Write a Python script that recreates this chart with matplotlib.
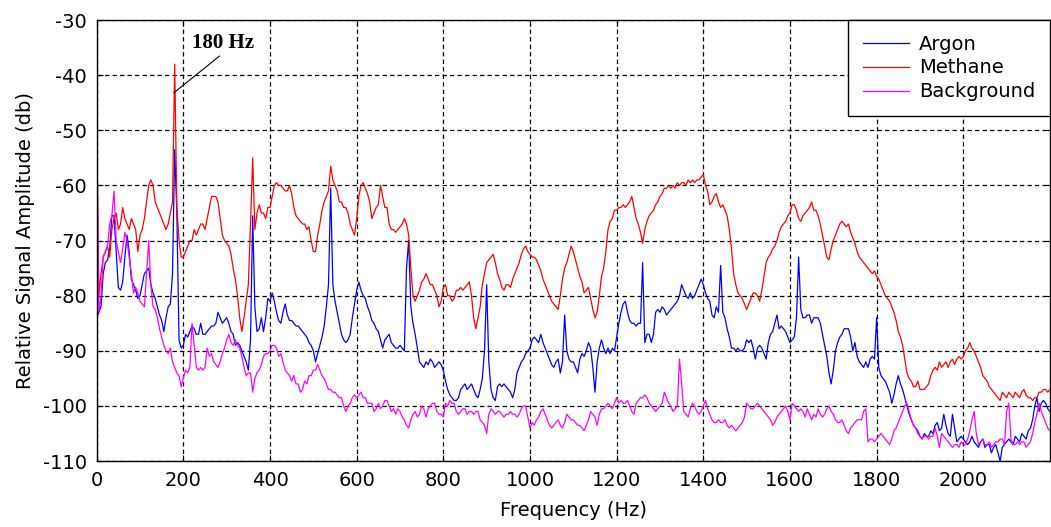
import numpy as np
from matplotlib import pyplot as plt

# spectra, one value every 5 Hz from 0 to 2200 Hz
freq = np.arange(0, 2201, 5)

methane = [
    -50, -80, -76, -73, -72, -71, -73, -68, -66, -65, -68, -67, -64, -66, -67, -68, -66, -67, -68, -72,
    -69, -68, -66, -63, -60, -59, -60, -63, -64, -65, -66, -67, -68, -67, -65, -63, -38, -64, -70, -73,
    -73, -72, -71, -70, -70, -68, -69, -68, -67, -67, -68, -66, -64, -62, -62, -62, -63, -66, -69, -70,
    -70.5, -71, -72.5, -75, -77, -80, -84, -86.5, -84, -81, -78, -67, -55, -68, -65, -63.5, -65, -65, -66, -64,
    -64, -62, -60, -59.5, -60, -60, -60.5, -61, -61, -60, -61.5, -64, -65.5, -66, -66.5, -67, -67, -68, -67.5, -70,
    -72, -72, -69, -67, -64.5, -63, -62, -61, -56.5, -59, -60, -61, -63, -63, -64, -64, -65, -67, -68, -69,
    -66, -62, -60, -59.5, -60.5, -61.5, -63, -66, -65, -64, -63.5, -60, -62, -64, -64, -67, -68, -68, -68.5, -68,
    -67.5, -67, -66, -67, -69, -75, -80, -81, -80, -79, -77.5, -77, -76, -77, -78, -78, -79, -80, -82, -81,
    -78.5, -78, -80, -80, -81, -80.5, -79, -79, -78.5, -79, -78.5, -78, -77.5, -80, -84, -86, -84, -82, -78, -76,
    -74, -73.5, -73, -72.5, -74, -76, -77, -78.5, -79, -78, -78, -78.5, -77, -76, -75, -74, -72.5, -71.5, -71, -72,
    -72.5, -73, -73, -73.5, -74.5, -75.5, -77, -78, -79, -80, -81, -81.5, -82, -82.5, -80, -77, -75, -74, -72.5, -71,
    -72, -73.5, -75, -76.5, -77.5, -79.5, -79, -78.5, -80.5, -82.5, -84, -83, -80, -76.5, -75, -72, -68, -66.5, -66, -64.5,
    -64.5, -64, -64, -63.5, -64, -63.5, -63, -62, -64, -66, -67, -68.5, -70.5, -68, -66.5, -65.5, -65, -64.5, -63.5, -63,
    -62, -61.5, -60.5, -60.5, -60, -60.5, -60, -60.5, -59.5, -60, -59.5, -59.5, -60, -59, -59.5, -59, -59.5, -59, -59, -58.5,
    -58, -60, -61, -63.5, -63, -62, -61.5, -63, -64, -63.5, -64.5, -65.5, -68, -71.5, -76, -78, -79.5, -80, -80.5, -81.5,
    -82.5, -81.5, -80.5, -79.5, -79.5, -80, -81, -79, -76.5, -74, -73, -72.5, -71.5, -71, -70, -68.5, -67.5, -67, -66.5, -65.5,
    -65, -63.5, -63.5, -64.5, -66, -66.5, -65.5, -65, -64.5, -64, -63, -64.5, -64.5, -65.5, -67, -69, -71, -73, -73.5, -71.5,
    -70, -69, -68, -67, -66.5, -67, -67.5, -67, -68.5, -69.5, -70.5, -72, -73, -73.5, -74, -74.5, -75, -75.5, -76, -75.5,
    -76.5, -77, -78, -79, -80, -80.5, -81, -82, -83, -84.5, -86.5, -87.5, -89, -91.5, -94, -95, -95.5, -96.5, -96.5, -95.5,
    -97, -97, -97, -96.5, -96, -94.5, -93.5, -93, -93.5, -92, -93, -92.5, -92, -93, -92, -91.5, -92.5, -91.5, -91, -91.5,
    -91, -90, -89.5, -88.5, -89.5, -90, -91, -92, -93, -94.5, -95, -95.5, -96.5, -97, -97.5, -98, -98.5, -99, -97.5, -98,
    -98.5, -97.5, -98, -98.5, -97.5, -98, -98.5, -97.5, -97, -98, -98.5, -98.5, -99, -98.5, -98.5, -97.5, -97.5, -97, -97, -97.5,
    -97,
]

argon = [
    -84, -83, -82, -76, -74, -73.5, -71.5, -65.5, -65.5, -72, -78.5, -79, -77.5, -73, -69, -72, -77, -78, -79, -80.5,
    -80, -78, -76, -75.5, -75, -78, -79.5, -80.5, -82, -83.5, -84.5, -86.5, -84, -82, -81.5, -76, -53.5, -65, -88, -89.5,
    -89, -87, -87.5, -86.5, -85.5, -86, -87, -87, -85, -87, -87, -86.5, -86, -85.5, -85.5, -85, -83, -84, -85, -84.5,
    -84, -85, -86.5, -87, -89, -88.5, -89, -90, -91, -92, -93.5, -88, -65.5, -82, -86.5, -86, -84, -86.5, -84, -80.5,
    -81, -79.5, -81, -83, -84.5, -85, -83, -81.5, -83.5, -84.5, -84.5, -85, -85.5, -85.5, -86, -86.5, -87, -87.5, -88.5, -89,
    -90, -92, -90.5, -89, -87.5, -85.5, -82, -78, -60.5, -78, -81, -83, -85, -87, -88, -88.5, -88, -87, -84, -81.5,
    -79, -77.5, -79, -80, -80.5, -82, -83, -84.5, -85, -86, -86.5, -88, -89.5, -88, -87.5, -87, -88.5, -89, -89.5, -89.5,
    -89, -89.5, -90, -75, -70, -82, -85, -87, -89.5, -92, -92.5, -93, -92, -92.5, -91.5, -92, -93, -92.5, -92, -92.5,
    -93.5, -95.5, -97, -98, -98.5, -99, -99, -98.5, -97, -96.5, -96, -97, -96.5, -96, -97, -98, -98.5, -97, -95, -90,
    -78, -92, -97, -98.5, -99, -96.5, -96, -96.5, -96, -96.5, -97, -97.5, -98.5, -97, -94, -93, -92, -91.5, -90.5, -90,
    -89.5, -88, -87.5, -88, -88.5, -87, -88.5, -89.5, -90.5, -91.5, -92.5, -93, -92, -91.5, -94, -92, -83.5, -90, -91.5, -92,
    -92, -93, -94, -91.5, -90.5, -91, -90, -88.5, -89.5, -93, -97.5, -92, -89.5, -88, -89.5, -90.5, -89.5, -90.5, -89.5, -90,
    -87.5, -85, -83, -81.5, -81, -83, -84.5, -85, -85, -85.5, -85, -85, -74, -88.5, -87, -87, -88.5, -87, -83, -82.5,
    -83, -82, -82.5, -83.5, -83, -82.5, -82, -81.5, -81, -80, -78, -79, -80, -80.5, -79.5, -80.5, -80, -79, -78, -77,
    -78, -79.5, -80.5, -81, -83.5, -84, -82, -83, -74.5, -83, -84, -86, -87.5, -89.5, -89.5, -90, -89.5, -90, -90, -89.5,
    -88, -88.5, -88, -89.5, -91.5, -89.5, -89, -89.5, -90.5, -91.5, -88.5, -87, -86.5, -85, -83.5, -86, -85.5, -86, -86.5, -87.5,
    -88.5, -88, -87.5, -84, -73, -82.5, -84, -84, -83.5, -83.5, -85, -84, -84, -84, -85, -87, -89, -91, -94, -96,
    -93.5, -90, -88.5, -87.5, -87, -86, -86, -86, -87.5, -90, -88.5, -91, -92, -92.5, -93, -92, -93, -91.5, -91, -91.5,
    -84, -93, -94.5, -95, -95.5, -96.5, -97.5, -99.5, -98, -96, -94.5, -96, -97, -98.5, -100, -101.5, -102.5, -103.5, -104, -104.5,
    -105.5, -106, -105, -105.5, -105.5, -104.5, -105, -103.5, -103, -104.5, -104, -101.5, -103.5, -105, -105.5, -101.5, -104, -106.5, -106, -105.5,
    -106, -106.5, -107, -106.5, -105.5, -106.5, -107, -107.5, -106.5, -106, -107.5, -107, -107, -108.5, -107.5, -107, -108.5, -110, -107.5, -107,
    -106.5, -106, -106.5, -107, -105.5, -106, -106.5, -105, -105.5, -106, -104.5, -104, -102.5, -100, -98.5, -101, -99.5, -99, -99.5, -100.5,
    -101,
]

background = [
    -49, -83, -80, -73, -72, -71, -67, -65.5, -61, -70, -72, -74, -71.5, -68.5, -70, -73, -76, -79.5, -78.5, -79.5,
    -81, -81.5, -82, -76, -70, -78, -82, -82.5, -84, -86, -87.5, -89, -90, -90.5, -89.5, -92, -93, -94, -94.5, -96.5,
    -95, -93.5, -94, -93, -85, -89, -93, -93.5, -93, -93.5, -93, -89.5, -91, -90.5, -92, -92.5, -93, -92, -90.5, -89.5,
    -88, -87, -88.5, -89, -88, -89, -89.5, -91, -93, -94.5, -94, -94, -97.5, -95, -94, -93.5, -92.5, -91, -90.5, -90.5,
    -90, -89, -89, -89.5, -91, -90.5, -92, -93.5, -94, -94.5, -95.5, -94.5, -96, -96, -97.5, -97, -95.5, -96, -94.5, -94.5,
    -93.5, -93.5, -92.5, -93.5, -94.5, -95, -96, -97, -97, -97.5, -97.5, -98, -98.5, -98.5, -100, -101, -100, -99.5, -98.5, -98,
    -98.5, -98, -97.5, -98.5, -98.5, -99.5, -99.5, -99.5, -101, -100.5, -99.5, -100.5, -100, -99, -99, -100, -101, -100.5, -101.5, -100.5,
    -101, -102, -102.5, -103.5, -104, -102.5, -101.5, -101, -102, -101.5, -100, -100.5, -102, -100.5, -100, -99.5, -99.5, -101, -101.5, -101.5,
    -102, -99.5, -100, -99, -99.5, -99.5, -101, -101.5, -101, -100.5, -100.5, -101.5, -101, -101, -101.5, -101, -101, -102.5, -103, -103.5,
    -105, -101.5, -100.5, -101, -101.5, -101, -101, -101.5, -102, -101.5, -101.5, -101, -101.5, -101.5, -102, -101.5, -100.5, -100, -100, -102,
    -104, -103, -103.5, -102.5, -102, -101, -100.5, -101.5, -102.5, -103.5, -104, -103.5, -103, -102.5, -103.5, -104, -103, -101.5, -102, -102.5,
    -102.5, -103, -103.5, -103.5, -104, -104.5, -103.5, -102.5, -101, -101.5, -102, -103.5, -101.5, -100.5, -100.5, -100, -99.5, -100, -100.5, -99.5,
    -98.5, -99.5, -99, -99.5, -99.5, -99, -100, -101, -101.5, -99.5, -99, -98.5, -98.5, -98, -98.5, -99.5, -100, -100.5, -101, -100.5,
    -100, -99.5, -97.5, -98.5, -99.5, -100, -101, -100.5, -100, -91.5, -96, -101, -101.5, -102, -100.5, -99.5, -100, -101, -101.5, -101,
    -100, -99, -100.5, -101.5, -102.5, -103, -103, -102.5, -103, -103, -102.5, -103.5, -104, -103.5, -104, -104.5, -104, -103.5, -103, -102,
    -99.5, -100, -100.5, -100.5, -100, -99.5, -100, -100.5, -101, -101.5, -102, -102.5, -103.5, -103, -102, -101.5, -101, -100.5, -100, -101,
    -102.5, -99.5, -100, -100.5, -101, -100.5, -101, -102, -100.5, -101.5, -102.5, -101.5, -102, -100.5, -101.5, -102, -101.5, -100.5, -100, -101,
    -101.5, -102.5, -103, -103, -102.5, -103.5, -104.5, -105, -104, -103.5, -103, -102.5, -102.5, -102.5, -101, -100.5, -106.5, -106, -106, -106.5,
    -106, -105.5, -105, -105.5, -106, -106.5, -107, -106, -104.5, -104, -103, -102, -101, -100, -99.5, -101, -102.5, -103.5, -104, -105,
    -105.5, -106, -105.5, -105.5, -106, -105.5, -105.5, -104, -105.5, -107.5, -105, -105.5, -106, -106.5, -107, -107.5, -107, -107, -107.5, -106.5,
    -107, -107, -106, -104.5, -102.5, -101, -105, -107, -106.5, -106, -107, -107, -106.5, -107.5, -107, -106.5, -106.5, -106, -106, -107,
    -101, -99.5, -106, -107, -107, -106.5, -107, -106.5, -106.5, -107.5, -107, -106.5, -105, -103, -101.5, -99.5, -101, -102, -103, -104,
    -104.5,
]

series_names = ["Argon", "Methane", "Background"]
series_colors = ["#0000ff", "#ff0000", "#ff00ff"]

plt.rcParams["font.family"] = "DejaVu Sans"
plt.rcParams["axes.unicode_minus"] = False

fig = plt.figure(figsize=(10.51, 5.27), dpi=100)
ax = fig.add_axes([0.092, 0.125, 0.907, 0.837])

for name, color, values in zip(series_names, series_colors, [argon, methane, background]):
    ax.plot(freq, values, color=color, linewidth=0.9, label=name)

ax.set_xlim(0, 2200)
ax.set_ylim(-110, -30)
ax.set_xticks(np.arange(0, 2001, 200))
ax.set_yticks(np.arange(-110, -29, 10))
ax.tick_params(labelsize=14, direction="in", length=4, top=True, right=True, pad=7)
ax.grid(True, color="black", linestyle=(0, (3.5, 2.5)), linewidth=0.9)
for s in ax.spines.values():
    s.set_linewidth(1.0)

ax.set_xlabel("Frequency (Hz)", fontsize=14, labelpad=8)
ax.set_ylabel("Relative Signal Amplitude (db)", fontsize=14, labelpad=6)

# label for the 180 Hz line
ax.annotate("180 Hz", xy=(178, -43.2), xytext=(220, -34.2),
            fontsize=15, fontweight="bold", family="Liberation Serif", va="center",
            arrowprops=dict(arrowstyle="-", color="black", lw=0.8,
                            shrinkA=0, shrinkB=0, relpos=(0.5, 0)))

leg = ax.legend(loc="upper right", fontsize=14, frameon=True, fancybox=False,
                edgecolor="black", framealpha=1, borderaxespad=0,
                handlelength=2.4, handletextpad=0.5, labelspacing=0.25, borderpad=0.75)
leg.get_frame().set_linewidth(1.0)

fig.savefig("out.png", dpi=100)
